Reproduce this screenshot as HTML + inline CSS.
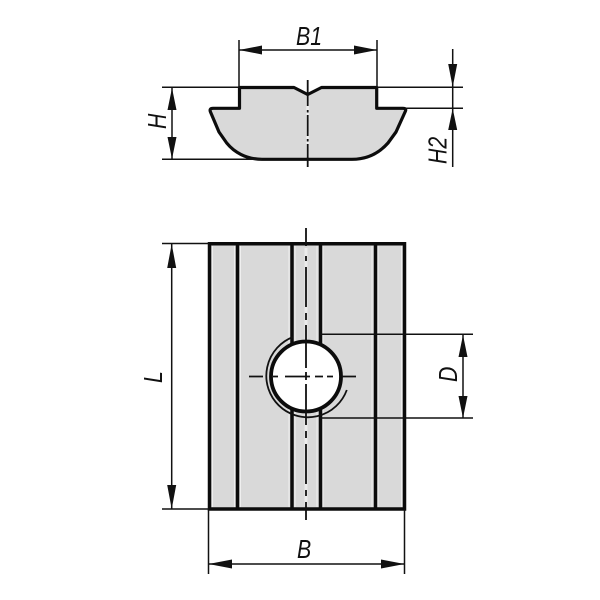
<!DOCTYPE html>
<html><head><meta charset="utf-8"><style>
html,body{margin:0;padding:0;background:#fff}
svg{display:block}
text{font-family:"Liberation Sans",sans-serif;font-style:italic;font-size:26px;fill:#111}
.t{stroke:#111;stroke-width:1.5;fill:none}
.k{stroke:#0c0c0c;stroke-width:3.5;fill:none}
.a{fill:#111;stroke:none}
.c{stroke:#111;stroke-width:1.8;fill:none}
.w{stroke:#ececec;stroke-width:3;fill:none}
.h{stroke:#efefef;stroke-width:1;fill:none}
</style></head><body>
<svg width="600" height="600" viewBox="0 0 600 600" xmlns="http://www.w3.org/2000/svg">
<!-- top view -->
<path d="M239.500 87.500H294L307.700 94.500L321.500 87.500H376.700V108.300H403Q406.500 108.300 405.500 111L396 132L388 143C380 152 368 159.300 352 159.300H262C246 159.300 234 152 226.700 143L219 132L210.500 112Q209 108.300 213 108.300H239.500Z" fill="#d9d9d9" stroke="#0c0c0c" stroke-width="3.200" stroke-linejoin="round"/>
<path class="t" d="M162 87.300H240M376 87.300H463M162 159.300H262M405 108.300H463M239 40V88M377 40V88M239 50H377M172 88V159M452.700 49V167"/>
<path d="M307.700 96V157" class="w"/>
<path d="M307.700 80V106M307.700 110V112.500M307.700 115V136M307.700 139V141.500M307.700 144V167" class="c"/>
<path class="a" d="M239 50L262 45.500V54.500ZM377 50L354 45.500V54.500ZM172 88L167.500 110H176.500ZM172 159L167.500 137H176.500ZM452.700 87L448.200 64H457.200ZM452.700 108.500L448.200 130H457.200Z"/>
<text transform="translate(296 45) scale(.82 1)">B1</text>
<text transform="translate(166 129) rotate(-90) scale(.82 1)">H</text>
<text transform="translate(446.500 164) rotate(-90) scale(.82 1)">H2</text>

<!-- bottom view -->
<rect x="209.500" y="244" width="195" height="265" fill="#d9d9d9"/>
<path class="h" d="M212.500 246V507M234.500 246V507M240.500 246V507M289 246V507M295 246V507M317 246V507M323 246V507M372 246V507M378 246V507M401.500 246V507"/>
<path d="M306 248V344M306 408V506" class="w"/>
<path class="k" d="M209.500 243.800H404.500V509H209.500ZM237.500 244V509M375.500 244V509M292 244V345M320.500 244V345M292 408V509M320.500 408V509"/>
<path class="t" d="M162 243.500H209M162 509H209M208.500 509V574M404.500 509V574M208.500 564H404.500M171.700 244V509M320 334.300H473M320 418H473M463 335V418"/>
<circle cx="306" cy="376.500" r="35" fill="#fff" stroke="#0c0c0c" stroke-width="3.800"/>
<path d="M346.800 390A41.500 41.500 0 1 1 293 337" stroke="#111" stroke-width="1.800" fill="none"/>
<path d="M306 228V246M306 256V261M306 267V307M306 313V320M306 325V368M306 372V380M306 384V425M306 431V438M306 444V484M306 490V496M306 502V520" class="c"/>
<path class="c" d="M249 376.500H263M273 376.500H278M285 376.500H310M315 376.500H323M327 376.500H333M342 376.500H356"/>
<path class="a" d="M171.700 244L167.200 268H176.200ZM171.700 509L167.200 485H176.200ZM208.500 564L232 559.500V568.500ZM404.500 564L381 559.500V568.500ZM463 335L458.500 357H467.500ZM463 418L458.500 396H467.500Z"/>
<text transform="translate(297 558) scale(.82 1)">B</text>
<text transform="translate(162 383) rotate(-90) scale(.82 1)">L</text>
<text transform="translate(457 382) rotate(-90) scale(.82 1)">D</text>
</svg>
</body></html>
